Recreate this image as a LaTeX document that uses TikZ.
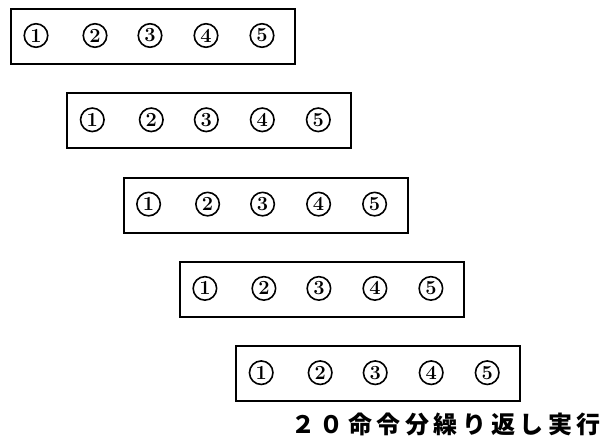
\documentclass[tikz,border=0pt]{standalone}
\usepackage{fontspec}
\newfontfamily\cjk[LetterSpace=19]{Noto Sans CJK JP}
\begin{document}
\begin{tikzpicture}[x=1pt,y=-1pt,
  stepbox/.style={draw,line width=2pt,minimum width=284pt,minimum height=55pt,inner sep=0pt,anchor=north west},
  cnum/.style={circle,draw,line width=1.6pt,minimum size=23.5pt,inner sep=0pt,font=\bfseries\fontsize{20}{20}\selectfont},
  note/.style={font=\cjk\bfseries\fontsize{24}{24}\selectfont,inner sep=0pt,anchor=east}]
\useasboundingbox (0,0) rectangle (603,436);
\foreach \i in {0,...,4}{
  \node[stepbox] (b\i) at ({10+56.3*\i},{8+84.3*\i}) {};
  \foreach \j/\dx in {1/26,2/85,3/140,4/196,5/252}{
    \node[cnum] (c\i\j) at ({10+56.3*\i+\dx},{8+84.3*\i+27.5}) {\j};
  }
}
\node[note] (t) at (601,424) {２０命令分繰り返し実行};
\end{tikzpicture}
\end{document}
